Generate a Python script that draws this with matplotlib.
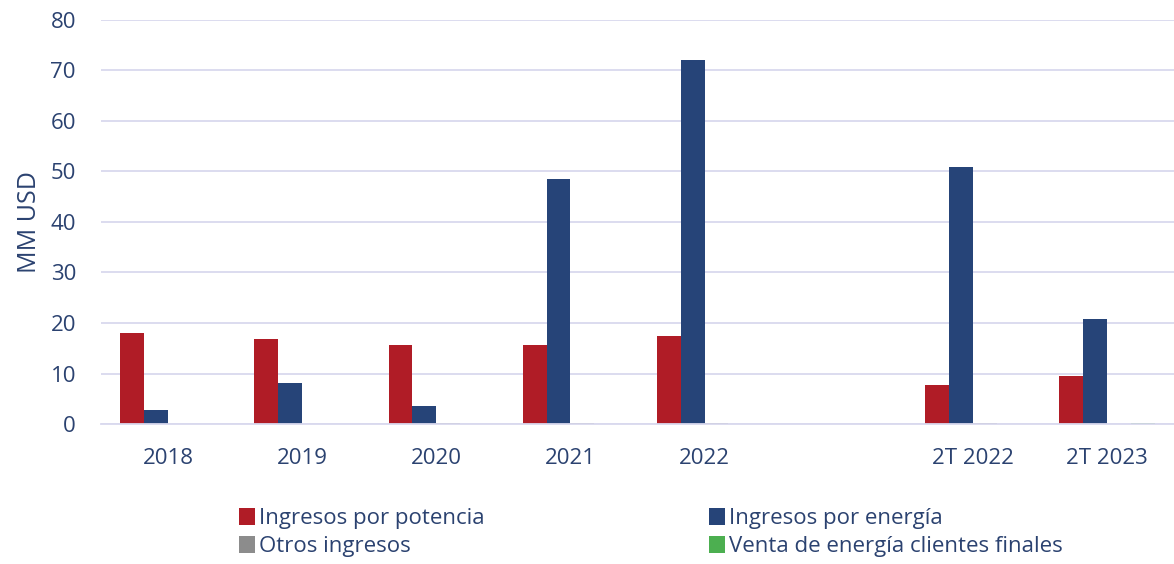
import numpy as np
import matplotlib.pyplot as plt

plt.rcParams['font.family'] = ['Open Sans', 'DejaVu Sans']

categorias = ['2018', '2019', '2020', '2021', '2022', '', '2T 2022', '2T 2023']
potencia = [18.0, 16.8, 15.6, 15.6, 17.4, np.nan, 7.7, 9.5]
energia = [2.8, 8.1, 3.6, 48.5, 72.1, np.nan, 50.9, 20.8]
otros = [0.0, 0.0, 0.2, 0.3, 0.3, np.nan, 0.2, 0.0]
clientes = [0.0, 0.0, 0.0, 0.0, 0.0, np.nan, 0.0, 0.3]

series = [
    ('Ingresos por potencia', potencia, '#b01c26'),
    ('Ingresos por energía', energia, '#264478'),
    ('Otros ingresos', otros, '#8c8c8c'),
    ('Venta de energía clientes finales', clientes, '#4caf50'),
]

txt = '#2b4270'
grid = '#d9d9ee'

fig = plt.figure(figsize=(11.74, 5.64), dpi=100)
ax = fig.add_axes([0.086, 0.248, 0.914, 0.717])

x = np.arange(len(categorias))
w = 0.178
bars = []
for i, (nombre, vals, col) in enumerate(series):
    b = ax.bar(x + (i - 1.5) * w, vals, w, color=col, label=nombre)
    bars.append(b)

ax.set_xlim(-0.5, len(categorias) - 0.5)
ax.set_ylim(0, 80)
ax.set_yticks(range(0, 81, 10))
ax.set_xticks(x)
ax.set_xticklabels(categorias)
ax.tick_params(axis='both', length=0, labelsize=16, colors=txt)
ax.tick_params(axis='x', pad=17)
ax.tick_params(axis='y', pad=18)
ax.yaxis.grid(True, color=grid, linewidth=1.3)
ax.set_axisbelow(True)
for s in ['top', 'right', 'left']:
    ax.spines[s].set_visible(False)
ax.spines['bottom'].set_color(grid)
ax.spines['bottom'].set_linewidth(1.3)
ax.set_ylabel('MM USD', fontsize=18, color=txt, labelpad=6)

# orden por filas: potencia, energía / otros, clientes
orden = [bars[0], bars[2], bars[1], bars[3]]
leg = fig.legend(handles=orden, loc='upper left', bbox_to_anchor=(0.196, 0.115),
                 ncol=2, frameon=False, fontsize=16, handlelength=0.7,
                 handleheight=0.8, handletextpad=0.2, columnspacing=10.1,
                 labelspacing=0.3, borderaxespad=0)
for t in leg.get_texts():
    t.set_color(txt)

fig.savefig('out.png', dpi=100)
